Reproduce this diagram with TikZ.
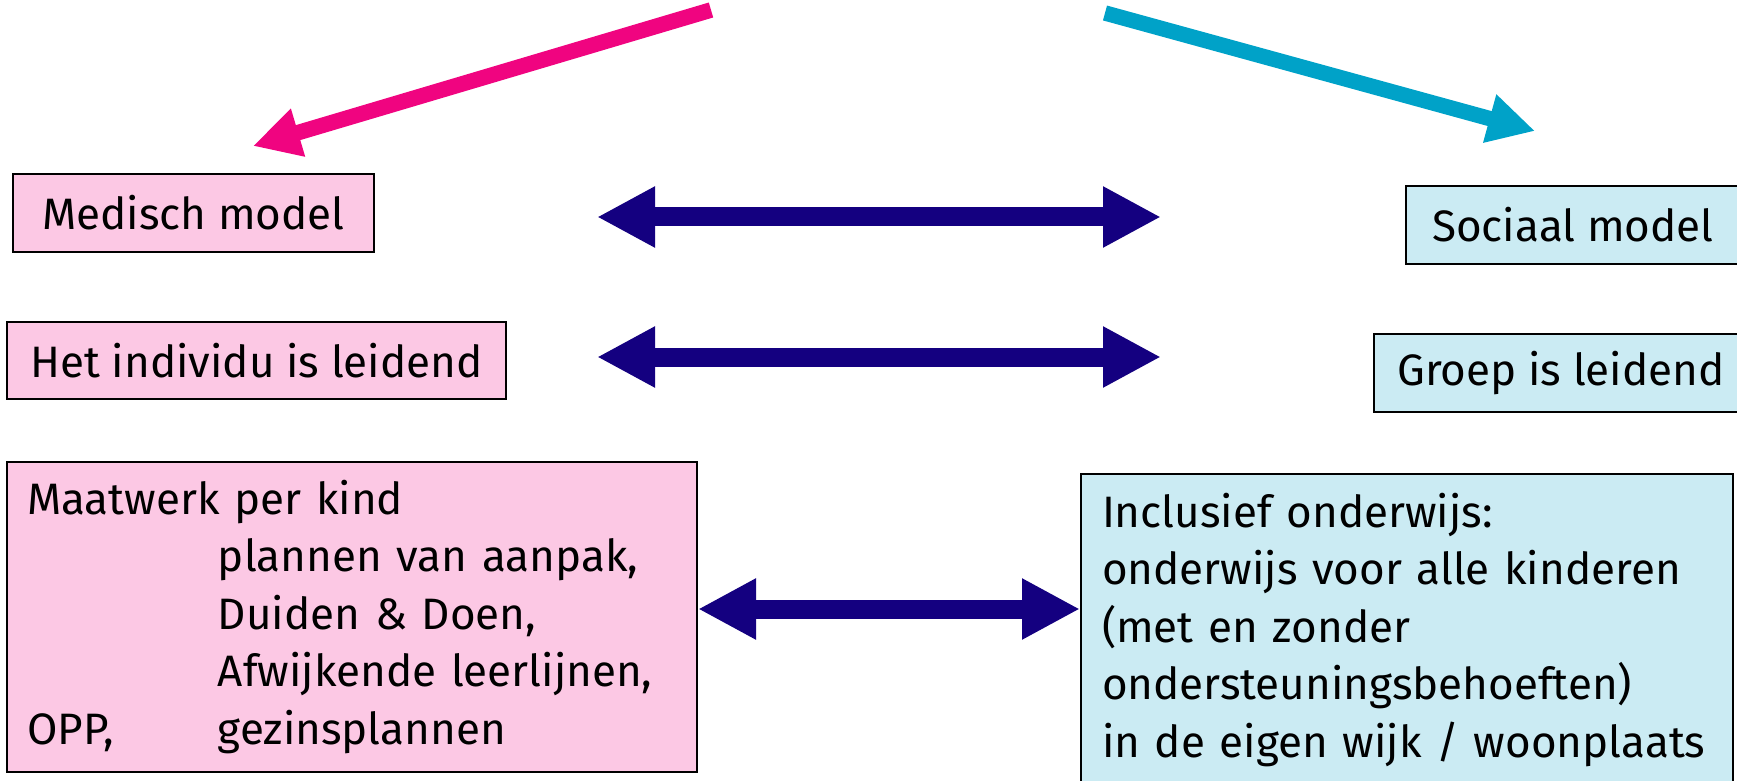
\documentclass[tikz,border=0pt]{standalone}
\usepackage{fontspec}
\setmainfont{Fira Sans}
\usetikzlibrary{arrows.meta}
\definecolor{modelpink}{RGB}{252,200,228}
\definecolor{modelblue}{RGB}{203,235,243}
\definecolor{arrowpink}{RGB}{240,4,128}
\definecolor{arrowcyan}{RGB}{0,162,200}
\definecolor{arrownavy}{RGB}{20,0,128}
\begin{document}
\begin{tikzpicture}[x=0.5pt, y=-0.5pt, font=\fontsize{22pt}{28.75pt}\selectfont,
        medbox/.style={draw=black, line width=1pt, fill=modelpink, inner sep=0pt},
        socbox/.style={draw=black, line width=1pt, fill=modelblue, inner sep=0pt},
        twoway/.style={arrownavy, line width=9.5pt, {Triangle[length=29pt,width=28.5pt]}-{Triangle[length=29pt,width=28.5pt]}}]
    \useasboundingbox (0,0) rectangle (1737,781);
    \clip (0,0) rectangle (1737,781);
    \node[medbox, minimum width=180.5pt, minimum height=39pt] (medisch) at (193.5,213) {Medisch model};
    \node[medbox, minimum width=249.5pt, minimum height=38.5pt] (individu) at (256.5,360.5) {Het individu is leidend};
    \node[socbox, minimum width=167.5pt, minimum height=39pt] (sociaal) at (1573,225) {Sociaal model};
    \node[socbox, minimum width=187pt, minimum height=39pt] (groep) at (1561,373) {Groep is leidend};
    \node[medbox, inner xsep=10pt, text width=325pt, align=left, minimum height=155pt] (maatwerk) at (352,617)
        {Maatwerk per kind\\
        \hspace*{95.5pt}plannen van aanpak,\\
        \hspace*{95.5pt}Duiden \& Doen,\\
        \hspace*{95.5pt}Afwijkende leerlijnen,\\
        \makebox[95.5pt][l]{OPP,}gezinsplannen};
    \node[socbox, inner xsep=10.5pt, text width=305pt, align=left, minimum height=156pt] (inclusief) at (1407,630)
        {Inclusief onderwijs:\\
        onderwijs voor alle kinderen\\
        (met en zonder\\
        ondersteuningsbehoeften)\\
        in de eigen wijk / woonplaats};
    % schuine pijlen bovenaan
    \coordinate (pinkstart) at (711,10); \coordinate (pinktip) at (253,146);
    \coordinate (cyanstart) at (1105,13); \coordinate (cyantip) at (1535,131);
    \draw[arrowpink, line width=7.8pt, -{Triangle[length=23.5pt,width=23.5pt]}] (pinkstart)--(pinktip);
    \draw[arrowcyan, line width=7.7pt, -{Triangle[length=23.5pt,width=23.5pt]}] (cyanstart)--(cyantip);
    % dubbele pijlen
    \coordinate (ml) at (597,217); \coordinate (mr) at (1161,217);
    \coordinate (il) at (597,357); \coordinate (ir) at (1161,357);
    \draw[twoway] (ml)--(mr);
    \draw[twoway] (il)--(ir);
    \draw[twoway] ([yshift=4pt]maatwerk.east)--([yshift=4pt]maatwerk.east -| inclusief.west);
\end{tikzpicture}
\end{document}
